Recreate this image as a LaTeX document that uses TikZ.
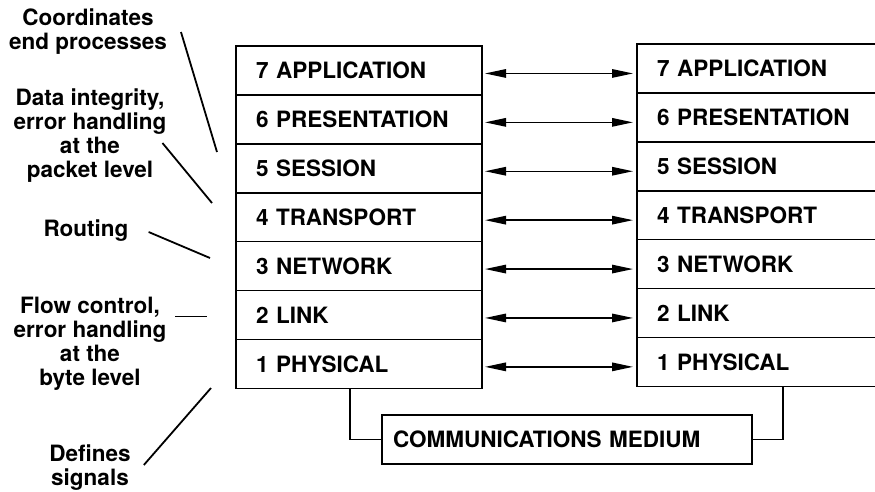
\documentclass[tikz,border=0pt]{standalone}
\usepackage{fontspec}
\setmainfont{TeX Gyre Heros}
\usetikzlibrary{arrows.meta}

\begin{document}
\begin{tikzpicture}[x=1pt,y=-1pt,
	every node/.style={font=\fontsize{22.5}{24}\selectfont\bfseries},
	layer/.style={draw,line width=1.6pt,anchor=north west,outer sep=0pt,inner xsep=20pt,inner ysep=0pt,text width=206pt,align=left,minimum height=48.9pt},
	medium/.style={draw,line width=1.6pt,anchor=north west,outer sep=0pt,inner xsep=11pt,inner ysep=0pt,text width=348pt,align=left,minimum height=49pt},
	note/.style={align=center,inner sep=0pt},
	link/.style={line width=1.4pt,{Triangle[length=21pt,width=8.5pt]}-{Triangle[length=21pt,width=8.5pt]},shorten <=3pt,shorten >=4pt},
	pointer/.style={line width=1.8pt},
	wire/.style={line width=1.6pt}]
		\clip (0,0) rectangle (875,491);
		% the two stacks of layers
		\foreach \n/\txt in {7/APPLICATION,6/PRESENTATION,5/SESSION,4/TRANSPORT,3/NETWORK,2/LINK,1/PHYSICAL}{
			\node[layer] (L\n) at (236,{46+(7-\n)*48.9}) {\n\ \txt};
			\node[layer] (R\n) at (637,{44+(7-\n)*48.9}) {\n\ \txt};
			\draw[link] ([yshift=-3pt]L\n.east) -- ([yshift=-3pt]L\n.east -| R\n.west);
		}
		\node[medium] (med) at (382,415) {COMMUNICATIONS MEDIUM};
		\draw[wire] ([xshift=114pt]L1.south west) |- (med.west);
		\draw[wire] ([xshift=146pt]R1.south west) |- (med.east);
		% notes on the left
		\node[note] (crd) at (88,32) {Coordinates\\end processes};
		\node[note] (pkt) at (90,136) {Data integrity,\\error handling\\at the\\packet level};
		\node[note] (rte) at (86,231) {Routing};
		\node[note] (flw) at (90,344) {Flow control,\\error handling\\at the\\byte level};
		\node[note] (sig) at (90,468) {Defines\\signals};
		\coordinate (crd-end) at (217,152);
		\coordinate (pkt-end) at (212,203);
		\coordinate (rte-end) at (210,258);
		\coordinate (flw-end) at (207,316);
		\coordinate (sig-end) at (211,388);
		\draw[pointer] (crd.east) ++(14,0) -- (crd-end);
		\draw[pointer] (pkt.east) ++(-4,7) -- (pkt-end);
		\draw[pointer] (rte.east) ++(20,1) -- (rte-end);
		\draw[line width=1pt] (flw.east) ++(9,-28) -- (flw-end);
		\draw[pointer] (sig.east) ++(13,-3) -- (sig-end);
\end{tikzpicture}
\end{document}
